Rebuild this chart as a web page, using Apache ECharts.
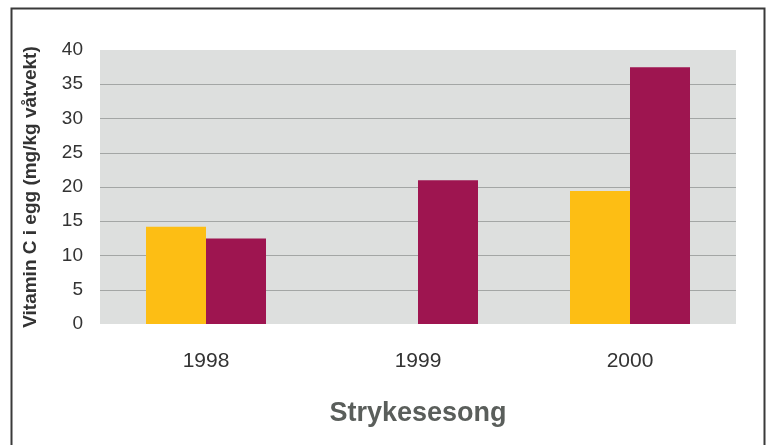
<!DOCTYPE html>
<html>
<head>
<meta charset="utf-8">
<script src="https://cdn.jsdelivr.net/npm/echarts@6/dist/echarts.min.js"></script>
<style>html,body{margin:0;padding:0;background:#fff;}#c{width:767px;height:445px;}</style>
</head>
<body>
<div id="c"></div>
<script>
const categories = ['1998', '1999', '2000'];
const seriesA = [14.2, null, 19.4];
const seriesB = [12.5, 21.0, 37.5];
const yTicks = [0, 5, 10, 15, 20, 25, 30, 35, 40];

const chart = echarts.init(document.getElementById('c'), null, {renderer: 'canvas'});
const gridColors = yTicks.map((v, i) => (i === 0 || i === yTicks.length - 1) ? 'rgba(0,0,0,0)' : '#a3a6a5');
chart.setOption({
  animation: false,
  backgroundColor: '#ffffff',
  graphic: [{
    type: 'rect', left: 9, top: 6,
    shape: {width: 753, height: 470},
    style: {fill: 'none', stroke: '#3a3a3a', lineWidth: 2}
  }],
  grid: {left: 100, right: 31, top: 50, bottom: 121, show: true, backgroundColor: '#dddfde', borderWidth: 0},
  xAxis: {
    type: 'category', data: categories,
    axisLine: {show: false}, axisTick: {show: false},
    axisLabel: {fontFamily: 'Liberation Sans', fontSize: 21, color: '#333', margin: 27},
    name: 'Strykesesong', nameLocation: 'middle', nameGap: 76,
    nameTextStyle: {fontFamily: 'Liberation Sans', fontSize: 27, fontWeight: 'bold', color: '#5a5e5b'}
  },
  yAxis: {
    type: 'value', min: 0, max: 40, interval: 5,
    axisLine: {show: false}, axisTick: {show: false},
    axisLabel: {fontFamily: 'Liberation Sans', fontSize: 19, color: '#333', margin: 17},
    splitLine: {show: true, lineStyle: {color: gridColors, width: 1}},
    name: 'Vitamin C i egg (mg/kg våtvekt)', nameLocation: 'middle', nameGap: 60,
    nameTextStyle: {fontFamily: 'Liberation Sans', fontSize: 19, fontWeight: 'bold', color: '#333'}
  },
  series: [
    {type: 'bar', data: seriesA, barWidth: 60, barGap: '0%', itemStyle: {color: '#fdbe14'}},
    {type: 'bar', data: seriesB, barWidth: 60, barGap: '0%', itemStyle: {color: '#9e1550'}}
  ]
});
</script>
</body>
</html>
